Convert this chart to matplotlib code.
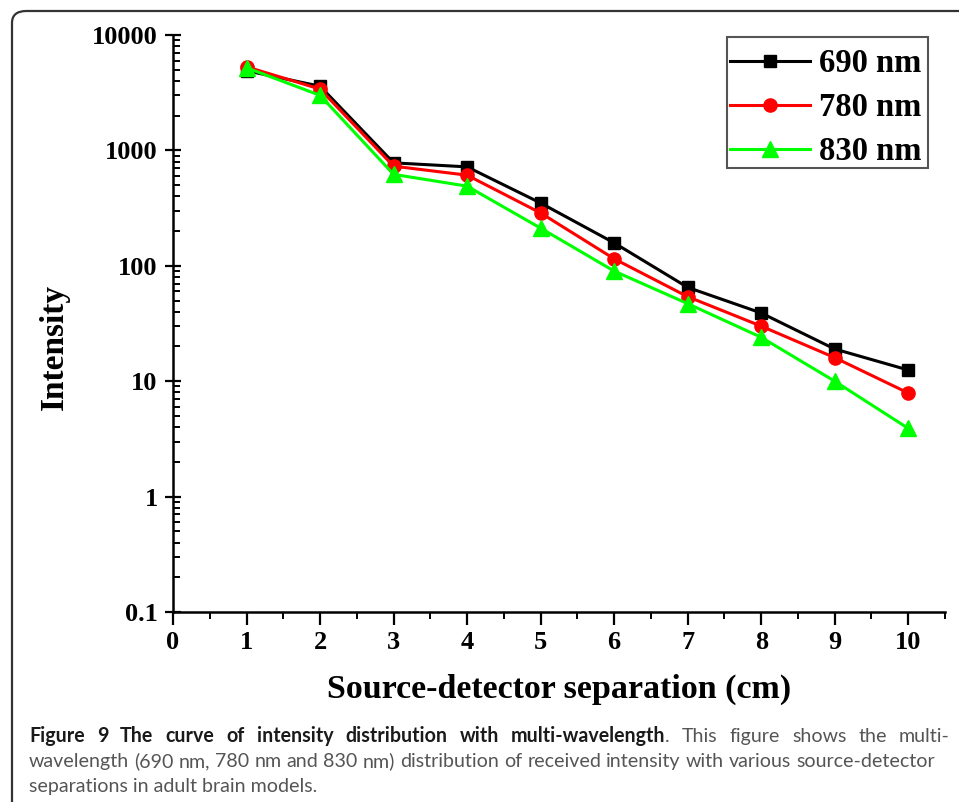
import matplotlib.pyplot as plt
from matplotlib.patches import FancyBboxPatch, Rectangle
from matplotlib.ticker import LogLocator, FixedLocator, NullFormatter

# source-detector separation (cm)
separation = [1, 2, 3, 4, 5, 6, 7, 8, 9, 10]

# received intensity for each wavelength
i690 = [4900, 3600, 780, 720, 350, 158, 65, 39, 19, 12.5]
i780 = [5300, 3400, 730, 610, 287, 115, 54, 30, 16, 7.9]
i830 = [5200, 3000, 620, 490, 212, 90, 47, 24, 10, 3.9]

labels = ['690 nm', '780 nm', '830 nm']
colors = ['black', 'red', '#00ff00']
markers = ['s', 'o', '^']
msizes = [8.5, 9.5, 11]

yticks = [0.1, 1, 10, 100, 1000, 10000]
ytick_labels = ['0.1', '1', '10', '100', '1000', '10000']
xticks = [0, 1, 2, 3, 4, 5, 6, 7, 8, 9, 10]

serif = 'Liberation Serif'

fig = plt.figure(figsize=(9.59, 8.02), dpi=100)
ax = fig.add_axes([173 / 959, 1 - 612 / 802, 772 / 959, 577 / 802])

for vals, lab, c, m, ms in zip([i690, i780, i830], labels, colors, markers, msizes):
    ax.plot(separation, vals, color=c, marker=m, markersize=ms, linewidth=2.2,
            label=lab, clip_on=False)

ax.set_yscale('log')
ax.set_ylim(0.1, 10000)
ax.set_xlim(0, 10.5)

ax.set_yticks(yticks)
ax.set_yticklabels(ytick_labels)
ax.yaxis.set_minor_locator(LogLocator(base=10, subs=range(2, 10)))
ax.yaxis.set_minor_formatter(NullFormatter())
ax.set_xticks(xticks)
ax.xaxis.set_minor_locator(FixedLocator([x + 0.5 for x in xticks]))

for s in ['top', 'right']:
    ax.spines[s].set_visible(False)
for s in ['left', 'bottom']:
    ax.spines[s].set_linewidth(1.8)

ax.tick_params(axis='y', which='major', direction='inout', length=12, width=1.6, pad=5)
ax.tick_params(axis='y', which='minor', direction='in', length=5, width=1.4)
ax.tick_params(axis='x', which='major', direction='out', length=9, width=1.6, pad=5)
ax.tick_params(axis='x', which='minor', direction='out', length=5, width=1.4)
for t in ax.get_xticklabels() + ax.get_yticklabels():
    t.set_fontfamily(serif)
    t.set_fontweight('bold')
    t.set_fontsize(19)

ax.set_xlabel('Source-detector separation (cm)', fontfamily=serif, fontweight='bold',
              fontsize=24.5, labelpad=14)
ax.set_ylabel('Intensity', fontfamily=serif, fontweight='bold', fontsize=24)
ax.yaxis.set_label_coords(-0.133, 0.459)

# legend without its own frame; the box is drawn separately
leg = ax.legend(loc='upper left', bbox_to_anchor=(0.7073, 0.997), borderaxespad=0,
                prop={'family': serif, 'weight': 'bold', 'size': 23.5},
                frameon=False, handlelength=2.45, handletextpad=0.25,
                borderpad=0.35, labelspacing=0.4)
ax.add_patch(Rectangle((0.7176, 0.7695), 0.2604, 0.227, transform=ax.transAxes,
                       fill=False, edgecolor='#555555', linewidth=1.5, clip_on=False))

# rounded frame around the figure panel
frame = FancyBboxPatch((12 / 959, -0.1), 1.2, 1 - 11 / 802 + 0.1,
                       boxstyle='round,pad=0,rounding_size=0.015',
                       transform=fig.transFigure, fill=False,
                       edgecolor='#333333', linewidth=1.6, clip_on=False)
fig.add_artist(frame)

# caption, first two lines justified between x0 and the given right edge
cap_font = 'Lato'
cap_size = 14.1
x0 = 29
line1 = [('Figure', 'bold'), ('9', 'bold'), ('The', 'bold'), ('curve', 'bold'),
         ('of', 'bold'), ('intensity', 'bold'), ('distribution', 'bold'),
         ('with', 'bold'), ('multi-wavelength.', 'mixed'), ('This', 'normal'),
         ('figure', 'normal'), ('shows', 'normal'), ('the', 'normal'), ('multi-', 'normal')]
line2 = 'wavelength (690 nm, 780 nm and 830 nm) distribution of received intensity with various source-detector'
line3 = 'separations in adult brain models.'

renderer = fig.canvas.get_renderer()


def word_artists(words, ybase):
    arts = []
    for w, wt in words:
        if wt == 'mixed':
            a = fig.text(0, ybase, w[:-1], fontfamily=cap_font, fontweight='bold',
                         fontsize=cap_size, color='#1a1a1a', transform=None)
            b = fig.text(0, ybase, '.', fontfamily=cap_font, fontsize=cap_size,
                         color='#555555', transform=None)
            arts.append([a, b])
        else:
            a = fig.text(0, ybase, w, fontfamily=cap_font, fontweight=wt,
                         fontsize=cap_size, color='#1a1a1a' if wt == 'bold' else '#555555',
                         transform=None)
            arts.append([a])
    return arts


def justify(arts, x_right):
    widths = []
    for group in arts:
        widths.append([a.get_window_extent(renderer).width for a in group])
    total = sum(sum(w) for w in widths)
    gap = (x_right - x0 - total) / (len(arts) - 1)
    x = x0
    for group, ws in zip(arts, widths):
        for a, w in zip(group, ws):
            a.set_x(x)
            x += w
        x += gap


H = 802
arts1 = word_artists(line1, H - 742)
justify(arts1, 950)
arts2 = word_artists([(w, 'normal') for w in line2.split(' ')], H - 767)
justify(arts2, 935)
fig.text(x0 / 959, 1 - 792 / H, line3, fontfamily=cap_font, fontsize=cap_size,
         color='#555555')

plt.savefig('out.png', dpi=100)
